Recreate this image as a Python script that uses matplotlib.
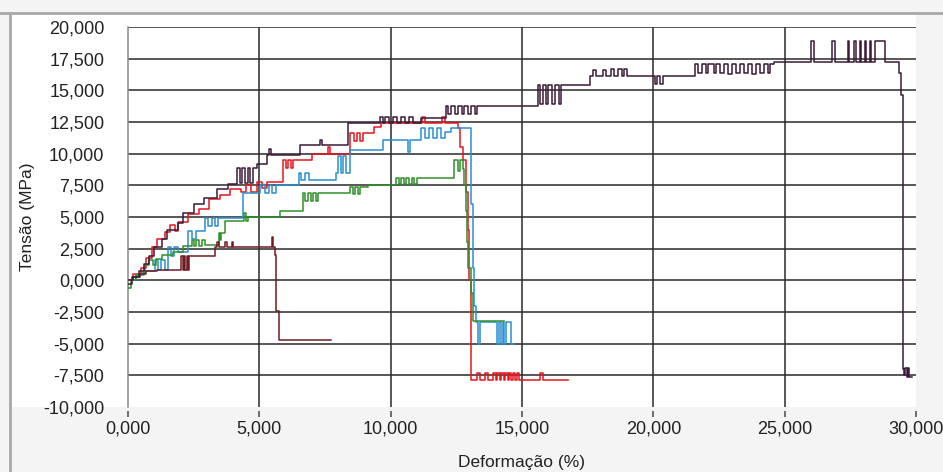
#!/usr/bin/env python3
"""Stress-strain curves (Tensão x Deformação) redrawn from a test machine screenshot."""

import matplotlib

matplotlib.use("Agg")
import matplotlib.pyplot as plt
from matplotlib.patches import Rectangle
from matplotlib.lines import Line2D

# ---- data (x = Deformação %, y = Tensão MPa), step curves ----
long_x = [0, 150, 400, 600, 800, 1000, 1300, 1500, 1900, 2100, 2500, 2900, 3400, 3800,
          4150, 4250, 4350, 4450, 4550, 4650, 4750, 4900, 5300, 5350, 5450, 6560, 7300, 7400,
          8360, 9600, 9700, 9800, 9950, 10100, 10250, 10400, 10550, 10700, 10850, 11150,
          12100, 12200, 12300, 12450, 12550, 12700, 12800, 12950, 13050, 13200, 13300,
          15600, 15700, 15800, 15900, 16000, 16150, 16250, 16400, 16500,
          17600, 17700, 17800, 18100, 18200, 18400, 18500, 18650, 18800, 18900, 19000,
          20050, 20150, 20250, 20350,
          21600, 21700, 21850, 22000, 22100, 22300, 22400, 22550, 22700, 22850, 23000,
          23150, 23300, 23450, 23600, 23750, 23900, 24050, 24200, 24350, 24450,
          24600, 26000, 26100, 26800, 26900, 27400, 27450, 27650, 27700, 27850, 27900,
          28050, 28100, 28250, 28300, 28450, 28590, 28820,
          29350, 29420, 29500, 29540, 29600, 29650, 29700, 29750, 29850]
long_y = [-300, 300, 700, 1300, 1900, 2600, 3300, 4000, 4500, 5300, 6000, 6500, 7200, 7600,
          8900, 7700, 8900, 7700, 8900, 7700, 8900, 9200, 9900, 10400, 9900, 10700, 11100, 10700,
          12400, 12900, 12400, 12900, 12400, 12900, 12400, 12900, 12400, 12900, 12400, 12800,
          13800, 13100, 13800, 13100, 13800, 13100, 13800, 13100, 13800, 13100, 13800,
          15400, 13900, 15400, 13900, 15400, 13900, 15400, 13900, 15400,
          16100, 16600, 16100, 16600, 16100, 16700, 16100, 16700, 16100, 16700, 16100,
          15500, 16100, 15500, 16100,
          17100, 16400, 17100, 16400, 17100, 16400, 17100, 16400, 17100, 16300, 17100,
          16400, 17100, 16400, 17100, 16300, 17100, 16400, 17100, 16400, 17100,
          17200, 18900, 17200, 18900, 17200, 18900, 17200, 18900, 17200, 18900, 17200,
          18900, 17200, 18900, 17200, 18900, 18900, 17200,
          16400, 14600, -7000, -7500, -6900, -7600, -6900, -7600, -7600]

red_x = [0, 200, 500, 700, 900, 1100, 1400, 1600, 1800, 1900, 2300, 2700, 3100, 3500,
         3900, 4300, 4500, 4700, 4900, 5100, 5300, 5900, 6000, 6100, 6200, 6300,
         7000, 7600, 7700, 8470, 8600, 8700, 8850, 8950, 9350, 9620,
         11200, 11300, 11950, 12050, 12560, 12650, 12750, 12850, 12950, 13000, 13050,
         13300, 13400, 13600, 13700, 13900, 14000, 14050, 14150, 14200, 14300, 14350,
         14450, 14500, 14600, 14650, 14750, 14800, 14900, 15700, 15800, 16760]
red_y = [0, 500, 1000, 1800, 2600, 3300, 3800, 4400, 3900, 4600, 5200, 5600, 6400, 6700,
         7200, 7000, 7500, 7000, 7800, 7300, 7800, 9470, 8900, 9500, 8900, 9500,
         10000, 10500, 10000, 11600, 11000, 11600, 11000, 11600, 12100, 12400,
         12900, 12400, 12900, 12400, 12000, 10500, 9500, 7000, 4000, 0, -7900,
         -7300, -7900, -7300, -7900, -7300, -7900, -7300, -7900, -7300, -7900, -7300,
         -7900, -7300, -7900, -7300, -7900, -7300, -7900, -7300, -7900, -7900]

blue_x = [0, 300, 600, 1030, 1150, 1250, 1400, 1530, 1650, 1750, 1900, 2290, 2450, 2600,
          2940, 3060, 3180, 3300, 3440, 4390, 5040, 5200, 5350, 5500, 5650, 6500, 6600,
          6750, 6900, 7900, 8000, 8100, 8200, 8300, 8470, 9700, 10650, 10750,
          11150, 11300, 11450, 11600, 11750, 11900, 12050, 12290, 13050, 13120, 13180, 13250,
          13330, 13400, 14050, 14120, 14200, 14260, 14330, 14400, 14600, 14680]
blue_y = [0, 400, 700, 1600, 800, 1600, 800, 2600, 1900, 2600, 2200, 3900, 3300, 3900,
          4900, 4300, 4900, 4300, 4900, 6900, 7500, 6900, 7500, 6900, 7500, 8500, 7900,
          8500, 7900, 8500, 9800, 8500, 9800, 8500, 10260, 11050, 10100, 11050,
          12000, 11200, 12000, 11200, 12000, 11200, 11700, 12000, 6000, 1000, -2000, -3300,
          -5000, -3300, -5000, -3300, -5000, -3300, -5000, -3300, -5000, -5000]

green_x = [0, 100, 300, 500, 650, 800, 950, 1050, 1300, 1700, 2100, 2450, 2500, 2600, 2700,
           2800, 2950, 3450, 3500, 3550, 3700, 4400, 4500, 4550, 5800, 6680, 6750, 6850,
           6950, 7050, 7150, 7250, 8470, 8550, 8650, 8750, 8850, 9120,
           10200, 10300, 10400, 10500, 10600, 10700, 10800, 10900, 11000,
           12400, 12550, 12650, 12750, 12800, 12850, 12900, 12950, 13050, 13150, 14300]
green_y = [-600, 0, 400, 600, 1200, 1600, 1200, 1700, 2000, 2200, 2700, 3150, 2700, 3150,
           2700, 3150, 2800, 3700, 3200, 3700, 4700, 5300, 4700, 5000, 5500, 6900, 6300,
           6900, 6300, 6900, 6300, 6900, 7350, 6800, 7350, 6800, 7350, 7500,
           8100, 7600, 8100, 7600, 8100, 7600, 8100, 7600, 8100,
           9500, 8600, 9500, 8800, 7500, 5500, 3000, 1000, -1000, -3200, -3200]

maroon_x = [0, 200, 450, 700, 1100, 2000, 2080, 2130, 2180, 2230, 2280, 2330,
            3300, 3380, 3450, 3700, 3750, 3950, 4000, 5480, 5530, 5600, 5650, 5730, 7710]
maroon_y = [0, 300, 500, 700, 800, 1900, 800, 1900, 800, 1900, 800, 1900,
            2600, 3000, 2600, 3000, 2600, 3000, 2600, 3400, 2600, 2000, -2400, -4740, -4740]

series_colors = ["#e8141c", "#2a8fd2", "#2f8f2a", "#6e1c22", "#3a1a38"]

x_ticks = [0, 5000, 10000, 15000, 20000, 25000, 30000]
x_tick_labels = ["0,000", "5,000", "10,000", "15,000", "20,000", "25,000", "30,000"]
y_ticks = [20000, 17500, 15000, 12500, 10000, 7500, 5000, 2500, 0, -2500, -5000, -7500, -10000]
y_tick_labels = ["20,000", "17,500", "15,000", "12,500", "10,000", "7,500", "5,000", "2,500",
                 "0,000", "-2,500", "-5,000", "-7,500", "-10,000"]


def main() -> int:
    plt.rcParams["font.family"] = ["Liberation Sans", "DejaVu Sans"]
    W, H = 943, 472
    fig = plt.figure(figsize=(W / 100, H / 100), dpi=100)
    fig.patch.set_facecolor("#f4f4f4")

    left, right, top, bottom = 128, 916, 27, 407
    # white panel behind the axes and the y labels
    fig.patches.append(Rectangle((11 / W, 1 - bottom / H), (right - 11) / W, (bottom - 13) / H,
                                 transform=fig.transFigure, facecolor="white", edgecolor="none", zorder=-5))
    # window frame lines
    fig.lines.append(Line2D([0, 1], [1 - 13 / H, 1 - 13 / H], transform=fig.transFigure,
                            color="#a8a8a8", lw=2, zorder=-4))
    fig.lines.append(Line2D([10 / W, 10 / W], [0, 1 - 13 / H], transform=fig.transFigure,
                            color="#a8a8a8", lw=2, zorder=-4))

    ax = fig.add_axes([left / W, 1 - bottom / H, (right - left) / W, (bottom - top) / H])
    ax.set_facecolor("white")
    ax.set_xlim(0, 30000)
    ax.set_ylim(-10000, 20000)

    for x in x_ticks[1:-1]:
        ax.axvline(x, color="#2a2a2a", lw=1.1, zorder=1)
    for y in y_ticks[:-1]:
        ax.axhline(y, color="#2a2a2a", lw=1.1, zorder=1)

    curves = [(red_x, red_y), (blue_x, blue_y), (green_x, green_y), (maroon_x, maroon_y), (long_x, long_y)]
    for (xs, ys), c in zip(curves, series_colors):
        ax.plot(xs, ys, color=c, lw=1.1, drawstyle="steps-post", zorder=3)

    for side in ("top", "right"):
        ax.spines[side].set_visible(False)
    ax.spines["left"].set_color("#8a8a8a")
    ax.spines["left"].set_linewidth(1.1)
    ax.spines["bottom"].set_visible(False)
    ax.spines["bottom"].set_position(("outward", 3))

    ax.set_xticks(x_ticks)
    ax.set_xticklabels(x_tick_labels)
    ax.set_yticks(y_ticks)
    ax.set_yticklabels(y_tick_labels)
    ax.tick_params(axis="x", length=4, width=1.2, color="#555555", pad=3, labelsize=13, labelcolor="#222222")
    ax.tick_params(axis="y", length=0, pad=17, labelsize=13, labelcolor="#222222")

    ax.set_xlabel("Deformação (%)", fontsize=12.5, color="#222222", labelpad=12)
    ax.set_ylabel("Tensão (MPa)", fontsize=12.5, color="#222222", labelpad=6)

    fig.savefig("out.png", dpi=100, facecolor=fig.get_facecolor())
    plt.close(fig)
    return 0


if __name__ == "__main__":
    raise SystemExit(main())
